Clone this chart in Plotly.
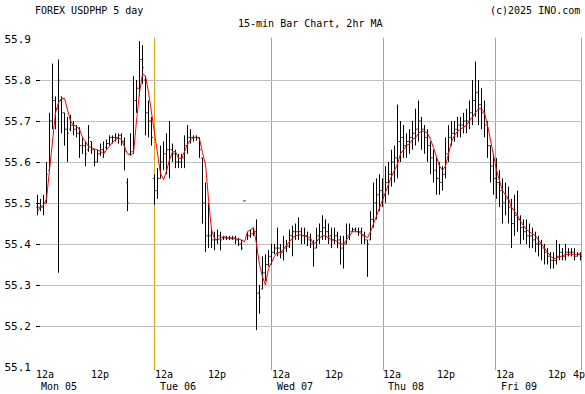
import plotly.graph_objects as go

# ---------------- data (15-min bars, resampled to ~3px columns) ----------------
mon_open = [55.49, 55.49, 55.49, 55.50, 55.58, 55.70, 55.75, 55.73, 55.75, 55.72, 55.68, 55.68, 55.69, 55.68, 55.67, 55.64, 55.64, 55.63, 55.65, 55.63, 55.60, 55.62, 55.63,
            55.635, 55.645, 55.66, 55.66, 55.66, 55.665, 55.65, 55.55, 55.62, 55.625, 55.75, 55.78, 55.85, 55.80, 55.72, 55.70]
mon_high = [55.52, 55.51, 55.52, 55.60, 55.72, 55.84, 55.76, 55.85, 55.76, 55.72, 55.71, 55.715, 55.70, 55.69, 55.685, 55.66, 55.65, 55.69, 55.65, 55.63, 55.63, 55.645, 55.65,
            55.655, 55.665, 55.665, 55.67, 55.67, 55.67, 55.66, 55.56, 55.67, 55.81, 55.80, 55.895, 55.885, 55.81, 55.75, 55.71]
mon_low = [55.47, 55.48, 55.47, 55.50, 55.58, 55.68, 55.68, 55.33, 55.67, 55.64, 55.60, 55.675, 55.665, 55.66, 55.61, 55.62, 55.59, 55.625, 55.62, 55.59, 55.60, 55.615, 55.61,
           55.63, 55.64, 55.645, 55.65, 55.645, 55.64, 55.58, 55.48, 55.615, 55.62, 55.72, 55.76, 55.79, 55.665, 55.66, 55.64]
mon_close = [55.49, 55.49, 55.50, 55.57, 55.70, 55.75, 55.73, 55.80, 55.72, 55.68, 55.67, 55.69, 55.68, 55.67, 55.64, 55.64, 55.62, 55.66, 55.63, 55.60, 55.62, 55.63, 55.625,
             55.645, 55.66, 55.66, 55.66, 55.665, 55.65, 55.625, 55.50, 55.625, 55.75, 55.78, 55.85, 55.83, 55.72, 55.70, 55.66]
mon_ma = [55.48, 55.49, 55.495, 55.51, 55.58, 55.66, 55.72, 55.745, 55.755, 55.755, 55.725, 55.70, 55.69, 55.687, 55.68, 55.66, 55.65, 55.638, 55.635, 55.632, 55.628, 55.626, 55.62,
          55.63, 55.64, 55.648, 55.655, 55.658, 55.655, 55.635, 55.62, 55.617, 55.622, 55.70, 55.77, 55.815, 55.81, 55.77, 55.72]

tue_open = [55.56, 55.53, 55.56, 55.60, 55.62, 55.63, 55.63, 55.62, 55.60, 55.60, 55.61, 55.64, 55.66, 55.66, 55.66, 55.66, 55.61, 55.50, 55.42, 55.42,
            55.41, 55.41, 55.42, 55.415, 55.415, 55.415, 55.415, 55.415, 55.41, 55.40, 55.505, 55.42, 55.42, 55.425, 55.43, 55.28, 55.29, 55.33, 55.35]
tue_high = [55.57, 55.585, 55.64, 55.65, 55.67, 55.70, 55.645, 55.63, 55.62, 55.62, 55.665, 55.69, 55.68, 55.665, 55.665, 55.66, 55.61, 55.55, 55.50, 55.44,
            55.43, 55.435, 55.43, 55.42, 55.42, 55.42, 55.42, 55.42, 55.415, 55.41, 55.505, 55.43, 55.435, 55.44, 55.46, 55.30, 55.37, 55.375, 55.385]
tue_low = [55.495, 55.51, 55.56, 55.58, 55.57, 55.56, 55.60, 55.585, 55.585, 55.585, 55.585, 55.62, 55.645, 55.65, 55.652, 55.61, 55.45, 55.38, 55.39, 55.39,
           55.385, 55.40, 55.385, 55.41, 55.41, 55.41, 55.41, 55.40, 55.395, 55.385, 55.505, 55.41, 55.415, 55.42, 55.19, 55.23, 55.29, 55.31, 55.345]
tue_close = [55.53, 55.56, 55.60, 55.62, 55.63, 55.63, 55.62, 55.60, 55.60, 55.61, 55.64, 55.66, 55.66, 55.66, 55.66, 55.63, 55.50, 55.42, 55.42, 55.41,
             55.41, 55.42, 55.41, 55.415, 55.415, 55.415, 55.415, 55.41, 55.40, 55.39, 55.505, 55.42, 55.425, 55.43, 55.28, 55.27, 55.33, 55.35, 55.37]
tue_ma = [55.675, 55.615, 55.572, 55.557, 55.578, 55.605, 55.625, 55.625, 55.61, 55.608, 55.625, 55.643, 55.654, 55.66, 55.66, 55.657, 55.623, 55.593, 55.51, 55.435,
          55.413, 55.41, 55.414, 55.418, 55.416, 55.414, 55.413, 55.413, 55.411, 55.41, 55.405, 55.43, 55.435, 55.44, 55.40, 55.35, 55.32, 55.30, 55.34]

wed_open = [55.37, 55.38, 55.39, 55.39, 55.38, 55.39, 55.395, 55.42, 55.43, 55.43, 55.43, 55.42, 55.42, 55.41, 55.40, 55.39, 55.42, 55.43, 55.44,
            55.43, 55.42, 55.41, 55.42, 55.41, 55.39, 55.40, 55.42, 55.43, 55.435, 55.43, 55.43, 55.42, 55.41, 55.41, 55.46, 55.50, 55.52, 55.53]
wed_high = [55.40, 55.40, 55.44, 55.40, 55.42, 55.41, 55.435, 55.445, 55.45, 55.465, 55.44, 55.44, 55.43, 55.425, 55.41, 55.44, 55.45, 55.47, 55.46,
            55.45, 55.44, 55.44, 55.43, 55.42, 55.42, 55.45, 55.45, 55.44, 55.44, 55.44, 55.44, 55.43, 55.41, 55.48, 55.55, 55.56, 55.57, 55.56]
wed_low = [55.35, 55.375, 55.37, 55.365, 55.36, 55.38, 55.39, 55.37, 55.41, 55.41, 55.40, 55.40, 55.395, 55.39, 55.345, 55.39, 55.40, 55.41, 55.41,
           55.40, 55.39, 55.40, 55.39, 55.35, 55.34, 55.40, 55.41, 55.43, 55.43, 55.42, 55.40, 55.40, 55.32, 55.41, 55.44, 55.46, 55.48, 55.49]
wed_close = [55.38, 55.39, 55.39, 55.38, 55.39, 55.395, 55.42, 55.43, 55.43, 55.43, 55.42, 55.42, 55.41, 55.40, 55.39, 55.42, 55.43, 55.44, 55.43,
             55.42, 55.41, 55.42, 55.41, 55.39, 55.40, 55.42, 55.43, 55.435, 55.43, 55.43, 55.42, 55.41, 55.40, 55.46, 55.50, 55.52, 55.53, 55.52]
wed_ma = [55.355, 55.37, 55.38, 55.378, 55.388, 55.398, 55.405, 55.415, 55.42, 55.422, 55.422, 55.42, 55.418, 55.414, 55.40, 55.405, 55.415, 55.42, 55.42,
          55.415, 55.41, 55.41, 55.405, 55.40, 55.40, 55.41, 55.42, 55.43, 55.43, 55.43, 55.425, 55.42, 55.415, 55.43, 55.45, 55.47, 55.49, 55.51]

thu_open = [55.52, 55.55, 55.57, 55.60, 55.61, 55.65, 55.66, 55.64, 55.65, 55.66, 55.67, 55.68, 55.70, 55.68, 55.66, 55.64, 55.61, 55.58, 55.56,
            55.55, 55.57, 55.62, 55.66, 55.67, 55.68, 55.69, 55.69, 55.70, 55.70, 55.72, 55.75, 55.77, 55.74, 55.72, 55.69, 55.64, 55.59]
thu_high = [55.59, 55.60, 55.63, 55.64, 55.74, 55.70, 55.69, 55.67, 55.68, 55.70, 55.73, 55.75, 55.71, 55.69, 55.68, 55.65, 55.63, 55.61, 55.60,
            55.59, 55.66, 55.69, 55.70, 55.70, 55.71, 55.71, 55.72, 55.73, 55.75, 55.80, 55.845, 55.80, 55.78, 55.75, 55.70, 55.64, 55.62]
thu_low = [55.50, 55.52, 55.54, 55.55, 55.56, 55.60, 55.61, 55.61, 55.62, 55.63, 55.64, 55.65, 55.63, 55.62, 55.60, 55.57, 55.55, 55.52, 55.52,
           55.53, 55.56, 55.60, 55.64, 55.65, 55.66, 55.66, 55.67, 55.67, 55.68, 55.69, 55.71, 55.69, 55.68, 55.66, 55.61, 55.55, 55.52]
thu_close = [55.55, 55.57, 55.60, 55.61, 55.65, 55.66, 55.64, 55.65, 55.66, 55.67, 55.68, 55.70, 55.68, 55.66, 55.64, 55.61, 55.58, 55.56, 55.55,
             55.57, 55.62, 55.66, 55.67, 55.68, 55.69, 55.69, 55.70, 55.70, 55.72, 55.75, 55.77, 55.74, 55.72, 55.69, 55.64, 55.59, 55.56]
thu_ma = [55.53, 55.55, 55.565, 55.58, 55.595, 55.62, 55.63, 55.64, 55.645, 55.655, 55.66, 55.67, 55.675, 55.675, 55.67, 55.655, 55.635, 55.61, 55.59,
          55.58, 55.59, 55.62, 55.65, 55.665, 55.675, 55.68, 55.685, 55.69, 55.70, 55.71, 55.72, 55.73, 55.73, 55.72, 55.69, 55.65, 55.61]

fri_open = [55.56, 55.55, 55.53, 55.50, 55.51, 55.49, 55.45, 55.47, 55.46, 55.44, 55.43, 55.42, 55.42, 55.41, 55.40,
            55.40, 55.39, 55.38, 55.37, 55.36, 55.36, 55.37, 55.38, 55.37, 55.38, 55.38, 55.38, 55.37, 55.375]
fri_high = [55.61, 55.58, 55.56, 55.55, 55.54, 55.51, 55.52, 55.53, 55.47, 55.46, 55.46, 55.45, 55.44, 55.43, 55.42,
            55.41, 55.40, 55.39, 55.38, 55.38, 55.41, 55.40, 55.39, 55.40, 55.39, 55.39, 55.39, 55.38, 55.38]
fri_low = [55.51, 55.49, 55.45, 55.47, 55.45, 55.39, 55.42, 55.43, 55.40, 55.41, 55.40, 55.39, 55.39, 55.38, 55.37,
           55.36, 55.35, 55.35, 55.34, 55.34, 55.35, 55.36, 55.36, 55.36, 55.37, 55.37, 55.36, 55.37, 55.36]
fri_close = [55.55, 55.53, 55.50, 55.51, 55.49, 55.45, 55.47, 55.46, 55.44, 55.43, 55.42, 55.42, 55.41, 55.40, 55.40,
             55.39, 55.38, 55.37, 55.36, 55.36, 55.37, 55.38, 55.37, 55.38, 55.38, 55.38, 55.37, 55.375, 55.37]
fri_ma = [55.58, 55.555, 55.53, 55.52, 55.51, 55.49, 55.48, 55.47, 55.455, 55.445, 55.435, 55.43, 55.425, 55.42, 55.41,
          55.40, 55.39, 55.38, 55.37, 55.365, 55.365, 55.37, 55.37, 55.375, 55.375, 55.375, 55.375, 55.375, 55.375]

day_labels = ["Mon 05", "Tue 06", "Wed 07", "Thu 08", "Fri 09"]
midnight_pos = [-0.5, 39.0, 78.0, 115.33, 152.67]   # bar index of 12a on each day
end_pos = 181.33                                     # Fri 4p (right edge)
noon_pos = [20.7, 59.7, 98.7, 136.2, 173.3]          # bar index of 12p on each day
end_label_pos = 180.5                                # "4p" label centre
y_ticks = [55.1, 55.2, 55.3, 55.4, 55.5, 55.6, 55.7, 55.8, 55.9]

# ---------------- assemble ----------------
days = [
    (mon_open, mon_high, mon_low, mon_close, mon_ma),
    (tue_open, tue_high, tue_low, tue_close, tue_ma),
    (wed_open, wed_high, wed_low, wed_close, wed_ma),
    (thu_open, thu_high, thu_low, thu_close, thu_ma),
    (fri_open, fri_high, fri_low, fri_close, fri_ma),
]
o, h, l, c, ma = [], [], [], [], []
for d in days:
    o += d[0]; h += d[1]; l += d[2]; c += d[3]; ma += d[4]
n = len(o)
x = list(range(n))

MONO = "DejaVu Sans Mono"
ORANGE = "#E0A010"

fig = go.Figure()
fig.add_trace(go.Ohlc(
    x=x, open=o, high=h, low=l, close=c,
    increasing=dict(line=dict(color="black", width=1)),
    decreasing=dict(line=dict(color="black", width=1)),
    tickwidth=0.4, hoverinfo="skip", showlegend=False,
))
fig.add_trace(go.Scatter(
    x=x, y=ma, mode="lines", line=dict(color="#FF0000", width=1),
    hoverinfo="skip", showlegend=False,
))

shapes = []
for b in midnight_pos[1:] + [end_pos]:
    shapes.append(dict(type="line", xref="x", yref="paper", x0=b, x1=b, y0=-0.01, y1=1.004,
                       line=dict(color=ORANGE, width=1), layer="below"))
fig.update_layout(shapes=shapes)

ann = []
def label(xv, yv, text, anchor, xshift=0):
    ann.append(dict(x=xv, y=yv, xref="x", yref="paper", text=text, showarrow=False,
                    xanchor=anchor, yanchor="middle", xshift=xshift, borderpad=0,
                    font=dict(family=MONO, size=10, color="black")))

for i in range(len(day_labels)):
    label(midnight_pos[i], -0.022, "12a", "left", -1)
    label(midnight_pos[i], -0.058, day_labels[i], "left", 4)
    label(noon_pos[i], -0.022, "12p", "center")
label(end_label_pos, -0.022, "4p", "center")

for txt, xp, yp, anc in [("FOREX USDPHP 5 day", -0.003, 1.088, "left"),
                         ("(c)2025 INO.com", 0.998, 1.088, "right"),
                         ("15-min Bar Chart, 2hr MA", 0.5027, 1.046, "center")]:
    ann.append(dict(x=xp, y=yp, xref="paper", yref="paper", text=txt, showarrow=False,
                    xanchor=anc, yanchor="middle", borderpad=0,
                    font=dict(family=MONO, size=10, color="black")))

fig.update_layout(
    annotations=ann,
    width=585, height=394,
    margin=dict(l=36, r=3, t=39, b=27),
    paper_bgcolor="white", plot_bgcolor="white",
    showlegend=False,
    xaxis=dict(range=[-0.5, n - 0.5], showgrid=False, zeroline=False, showticklabels=False,
               ticks="", showline=False, rangeslider=dict(visible=False), fixedrange=True),
    yaxis=dict(range=[55.1, 55.9], tickvals=y_ticks, ticktext=[f"{v:.1f}" for v in y_ticks],
               showgrid=True, gridcolor="#C0C0C0", gridwidth=1, zeroline=False, showline=False,
               ticks="inside", ticklen=4, tickcolor="black", tickwidth=1, ticklabelstandoff=4,
               tickfont=dict(family=MONO, size=11, color="black"), fixedrange=True),
)

# remove the default 8px page margin so the figure sits at the window's top-left corner
fig.write_html("out.html", config={"displayModeBar": False, "staticPlot": True},
               post_script="document.body.style.margin='0';")
